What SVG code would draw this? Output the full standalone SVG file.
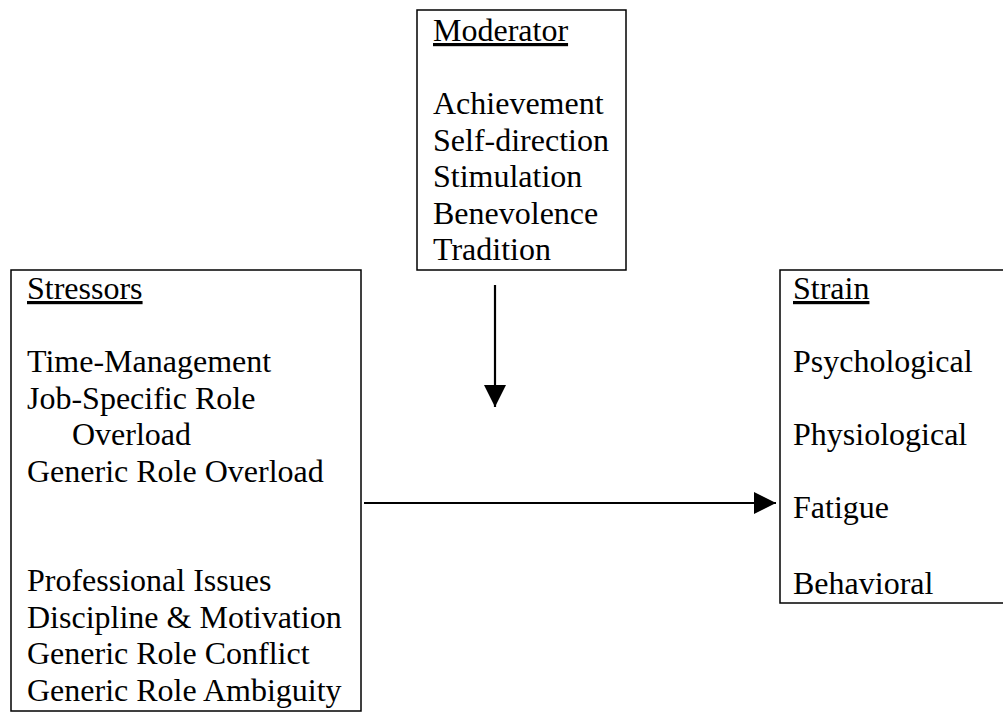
<svg xmlns="http://www.w3.org/2000/svg" width="1003" height="714" viewBox="0 0 1003 714">
<style>
text{font-family:"Liberation Serif","Times New Roman",serif;font-size:32px;fill:#000}
.box{fill:#fff;stroke:#000;stroke-width:1.5}
.u{text-decoration:underline}
.conn{stroke:#000;stroke-width:2.2;fill:none}
</style>
<defs>
<marker id="ah" markerWidth="22" markerHeight="22" refX="22" refY="11" orient="auto" markerUnits="userSpaceOnUse">
<path d="M0,0 L22,11 L0,22 Z" fill="#000"/>
</marker>
</defs>
<rect width="1003" height="714" fill="#fff"/>
<g id="moderator">
<rect class="box" x="417" y="10" width="209" height="260"/>
<text x="433" y="41" class="u">Moderator</text>
<text x="433" y="114">Achievement</text>
<text x="433" y="150.5">Self-direction</text>
<text x="433" y="187">Stimulation</text>
<text x="433" y="223.5">Benevolence</text>
<text x="433" y="260">Tradition</text>
</g>
<g id="stressors">
<rect class="box" x="11" y="270" width="350" height="441"/>
<text x="27" y="299" class="u">Stressors</text>
<text x="27" y="372">Time-Management</text>
<text x="27" y="408.5">Job-Specific Role</text>
<text x="72" y="445">Overload</text>
<text x="27" y="481.5">Generic Role Overload</text>
<text x="27" y="591">Professional Issues</text>
<text x="27" y="627.5">Discipline &amp; Motivation</text>
<text x="27" y="664">Generic Role Conflict</text>
<text x="27" y="700.5">Generic Role Ambiguity</text>
</g>
<g id="strain">
<rect class="box" x="780" y="270" width="240" height="333"/>
<text x="793" y="299" class="u">Strain</text>
<text x="793" y="372">Psychological</text>
<text x="793" y="445">Physiological</text>
<text x="793" y="518">Fatigue</text>
<text x="793" y="594">Behavioral</text>
</g>
<g id="connectors">
<line class="conn" x1="495" y1="285" x2="495" y2="407" marker-end="url(#ah)"/>
<line class="conn" x1="364" y1="503" x2="776" y2="503" marker-end="url(#ah)"/>
</g>
</svg>
